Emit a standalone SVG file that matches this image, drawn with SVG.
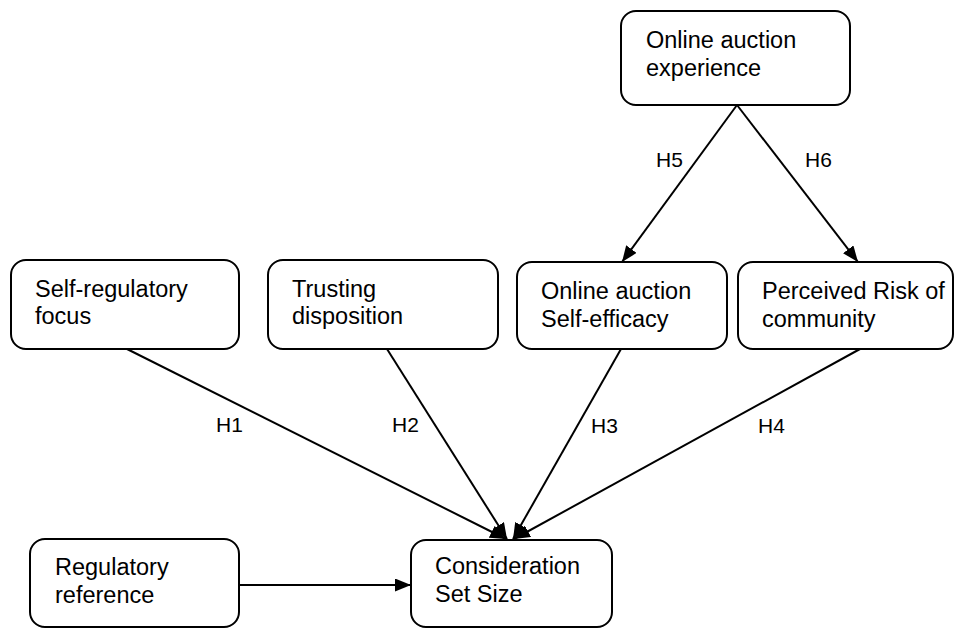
<svg xmlns="http://www.w3.org/2000/svg" width="965" height="628" viewBox="0 0 965 628">
<style>
.box{fill:#fff;stroke:#000;stroke-width:2}
.t{font-family:"Liberation Sans",Arial,sans-serif;font-size:23.5px;fill:#000}
.l{font-family:"Liberation Sans",Arial,sans-serif;font-size:21px;fill:#000}
.c{stroke:#000;stroke-width:2;fill:none;marker-end:url(#ah)}
</style>
<defs>
<marker id="ah" markerUnits="userSpaceOnUse" viewBox="0 0 16 13" refX="16" refY="6.5" markerWidth="16" markerHeight="13" orient="auto">
<path d="M0,0 L16,6.5 L0,13 Z" fill="#000"/>
</marker>
</defs>
<rect width="965" height="628" fill="#fff"/>
<g id="connectors">
<line class="c" x1="737" y1="105" x2="622" y2="262"/>
<line class="c" x1="737" y1="105" x2="858" y2="262"/>
<line class="c" x1="127" y1="349" x2="506" y2="539"/>
<line class="c" x1="387" y1="349" x2="507" y2="539"/>
<line class="c" x1="621" y1="349" x2="513" y2="539"/>
<line class="c" x1="860" y1="349" x2="514" y2="539"/>
<line class="c" x1="239" y1="585" x2="411" y2="585"/>
<text class="l" x="216" y="432">H1</text>
<text class="l" x="392" y="432">H2</text>
<text class="l" x="591" y="433">H3</text>
<text class="l" x="758" y="433">H4</text>
<text class="l" x="656" y="167">H5</text>
<text class="l" x="805" y="167">H6</text>
</g>
<g id="experience">
<rect class="box" x="621" y="11" width="229" height="94" rx="15"/>
<text class="t" x="646" y="48">Online auction</text>
<text class="t" x="646" y="76">experience</text>
</g>
<g id="self-regulatory">
<rect class="box" x="11" y="260" width="228" height="89" rx="15"/>
<text class="t" x="35" y="297">Self-regulatory</text>
<text class="t" x="35" y="324">focus</text>
</g>
<g id="trusting">
<rect class="box" x="268" y="260" width="230" height="89" rx="15"/>
<text class="t" x="292" y="297">Trusting</text>
<text class="t" x="292" y="324">disposition</text>
</g>
<g id="self-efficacy">
<rect class="box" x="517" y="262" width="210" height="87" rx="15"/>
<text class="t" x="541" y="299">Online auction</text>
<text class="t" x="541" y="327">Self-efficacy</text>
</g>
<g id="risk">
<rect class="box" x="738" y="262" width="215" height="87" rx="15"/>
<text class="t" x="762" y="299">Perceived Risk of</text>
<text class="t" x="762" y="327">community</text>
</g>
<g id="regulatory-reference">
<rect class="box" x="30" y="539" width="209" height="88" rx="15"/>
<text class="t" x="55" y="575">Regulatory</text>
<text class="t" x="55" y="603">reference</text>
</g>
<g id="consideration">
<rect class="box" x="411" y="540" width="201" height="87" rx="15"/>
<text class="t" x="435" y="574">Consideration</text>
<text class="t" x="435" y="602">Set Size</text>
</g>
</svg>
